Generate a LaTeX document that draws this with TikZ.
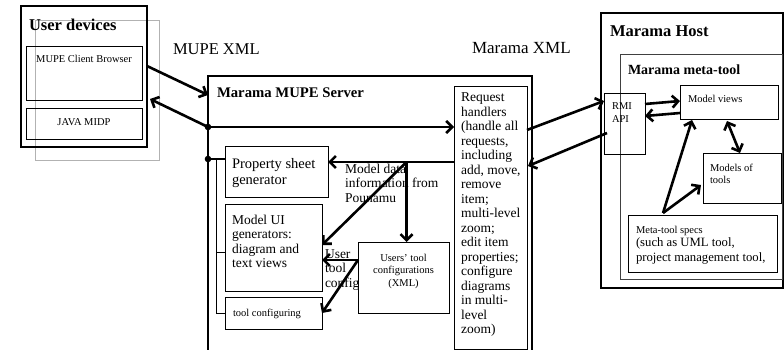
\documentclass[tikz,border=0pt]{standalone}
\usepackage{fontspec}
\setmainfont{Liberation Serif}
\usetikzlibrary{arrows.meta,calc}
\newcommand{\mlines}[1]{\begin{tabular}[t]{@{}l@{}}#1\end{tabular}}
\newcommand{\mclines}[1]{\begin{tabular}[t]{@{}c@{}}#1\end{tabular}}
\tikzset{
  box/.style={draw, line width=0.8pt, inner sep=0pt, outer sep=0pt, anchor=north west},
  txt/.style={inner sep=0pt, outer sep=0pt, anchor=base west},
  ctxt/.style={inner sep=0pt, outer sep=0pt, anchor=base},
  arr/.style={line width=2.6pt, -{Straight Barb[length=6pt,width=12pt]}},
  darr/.style={line width=2.6pt, {Straight Barb[length=6pt,width=12pt]}-{Straight Barb[length=6pt,width=12pt]}},
  bus/.style={line width=0.6pt},
  ftitle/.style={font=\fontsize{14.7}{17}\selectfont\bfseries},
  fmid/.style={font=\fontsize{13.5}{14.5}\selectfont},
  fsmall/.style={font=\fontsize{10.5}{12.5}\selectfont},
}
\begin{document}
\begin{tikzpicture}[x=1pt,y=-1pt]
\useasboundingbox (0,0) rectangle (784,350);
\clip (0,0) rectangle (784,350);
\fill[white] (0,0) rectangle (784,350);

% ---------- User devices ----------
\node[box, draw=black!30, minimum width=124pt, minimum height=140pt] (grey) at (35,20) {};
\node[box, line width=1.4pt, minimum width=126pt, minimum height=141pt] (userdev) at (21,6) {};
\node[box, minimum width=116pt, minimum height=54pt] (browser) at (26,46) {};
\node[box, minimum width=116pt, minimum height=31pt] (midp) at (26,108) {};
\node[txt, font=\fontsize{16.5}{18}\selectfont\bfseries] (tuserdev) at (29,31) {User devices};
\node[ctxt, fsmall] (tbrowser) at (84,63) {MUPE Client Browser};
\node[ctxt, fsmall] (tmidp) at (84,126) {JAVA MIDP};

% ---------- XML labels ----------
\node[txt, font=\fontsize{16.5}{18}\selectfont] (tmupexml) at (173,55) {MUPE XML};
\node[txt, font=\fontsize{17}{18}\selectfont] (tmaramaxml) at (472,54) {Marama XML};

% ---------- Server ----------
\node[box, line width=1.2pt, minimum width=324pt, minimum height=300pt] (server) at (208,76) {};
\node[txt, ftitle] (tserver) at (217,98) {Marama MUPE Server};
\node[box, minimum width=73pt, minimum height=263pt] (reqh) at (454,86) {};
\node[txt, fmid] (treqh) at (461,102) {\mlines{Request\\handlers\\(handle all\\requests,\\including\\add, move,\\remove\\item;\\multi-level\\zoom;\\edit item\\properties;\\configure\\diagrams\\in multi-\\level\\zoom)}};
\node[box, minimum width=103pt, minimum height=51pt] (prop) at (225,146) {};
\node[txt, font=\fontsize{14.5}{16}\selectfont] (tprop) at (232,168) {\mlines{Property sheet\\generator}};
\node[box, minimum width=97pt, minimum height=87pt] (modelui) at (225,204) {};
\node[txt, fmid] (tmodelui) at (232,224) {\mlines{Model UI\\generators:\\diagram and\\text views}};
\node[box, minimum width=97pt, minimum height=32pt] (toolcfg) at (225,297) {};
\node[txt, fsmall] (ttoolcfg) at (233,316) {tool configuring};
\node[txt, fmid] (tmodeldata) at (345,173) {\mlines{Model data\\information from\\Pounamu}};
\node[txt, fmid] (tusertool) at (325,258) {\mlines{User\\tool\\config}};
\node[box, fill=white, minimum width=91pt, minimum height=71pt] (userscfg) at (358,242) {};
\node[ctxt, fsmall] (tuserscfg) at (403.5,261) {\mclines{Users' tool\\configurations\\(XML)}};

% ---------- Marama Host ----------
\node[box, line width=1.4pt, minimum width=182pt, minimum height=275pt] (host) at (601,13) {};
\node[txt, font=\fontsize{16.5}{18}\selectfont\bfseries] (thost) at (610,37) {Marama Host};
\node[box, draw=black!75, minimum width=162pt, minimum height=225pt] (meta) at (620,54) {};
\node[txt, font=\fontsize{14}{15}\selectfont\bfseries] (tmeta) at (628,75) {Marama meta-tool};
\node[box, minimum width=41pt, minimum height=61pt] (rmi) at (604,93) {};
\node[txt, fsmall] (trmi) at (612,110) {\mlines{RMI\\API}};
\node[box, minimum width=98pt, minimum height=34pt] (views) at (680,85) {};
\node[txt, fsmall] (tviews) at (688,103) {Model views};
\node[box, minimum width=78pt, minimum height=50pt] (models) at (703,153) {};
\node[txt, fsmall] (tmodels) at (710,171) {\mlines{Models of\\tools}};
\node[box, minimum width=149pt, minimum height=57pt] (specs) at (628,215) {};
\node[txt, fsmall] (tspecs) at (636,233) {Meta-tool specs};
\node[txt, font=\fontsize{12.7}{15.5}\selectfont] (tspecs2) at (636,246) {\mlines{(such as UML tool,\\project management tool,}};

% ---------- connectors ----------
\coordinate (dot1) at ([yshift=-51pt]server.north west);
\coordinate (dot2) at ([yshift=-83pt]server.north west);
\coordinate (busTop) at ([xshift=8pt]dot2);
\coordinate (pa) at ([yshift=-16pt]prop.north east);
\coordinate (br) at ([xshift=3pt]userscfg.north |- pa);
\coordinate (uc) at ([yshift=-18pt]userscfg.north west);

\draw[arr] ([yshift=-60pt]userdev.north east) -- ([yshift=-19pt]server.north west);
\draw[arr] (dot1) -- ([xshift=3pt,yshift=-93pt]userdev.north east);
\draw[arr] (dot1) -- (dot1 -| reqh.west);
\fill (dot1) circle (3.3pt);
\draw[line width=2.6pt] (dot2) -- (dot2 -| prop.west);
\fill (dot2) circle (3.3pt);
\draw[bus] (busTop) |- (toolcfg.west);
\draw[bus] (busTop |- 0,252) -- (modelui.west |- 0,252);

\draw[arr] (reqh.west |- pa) -- (pa);
\draw[arr] (br) -- (br |- userscfg.north);
\draw[arr] (br) -- ([yshift=-41pt]modelui.north east);
\draw[arr] (uc) -- (uc -| modelui.east);
\draw[arr] (uc) -- (toolcfg.east);

\draw[arr] ([yshift=-44pt]reqh.north east) -- ([yshift=-8pt]rmi.north west);
\draw[arr] ([xshift=3pt,yshift=-40pt]rmi.north west) -- ([xshift=1pt,yshift=-80pt]reqh.north east);

\draw[arr] ([yshift=-11pt]rmi.north east) -- ([yshift=-16pt]views.north west);
\draw[arr] ([yshift=-28pt]views.north west) -- ([yshift=-23pt]rmi.north east);
\draw[darr] ([xshift=47pt,yshift=-2pt]views.south west) -- ([xshift=37pt]models.north west);
\draw[arr] ([xshift=35pt,yshift=2pt]specs.north west) -- ([xshift=12pt,yshift=-1pt]views.south west);
\draw[arr] ([xshift=35pt,yshift=2pt]specs.north west) -- ([xshift=-2pt,yshift=-32pt]models.north west);
\end{tikzpicture}
\end{document}
